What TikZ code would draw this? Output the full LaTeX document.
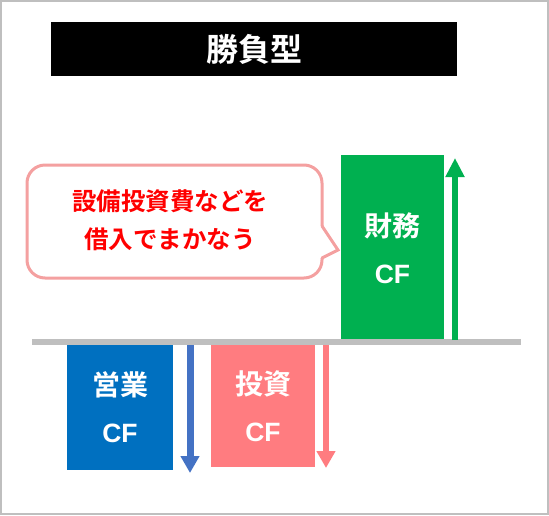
\documentclass[tikz,border=0pt]{standalone}
\usepackage{fontspec}
\setmainfont{Noto Sans CJK JP}[BoldFont={Noto Sans CJK JP Bold}]
\newfontfamily\latinf{Liberation Sans}
\usetikzlibrary{arrows.meta}
\definecolor{grayline}{HTML}{BFBFBF}
\definecolor{cfgreen}{HTML}{00B050}
\definecolor{cfblue}{HTML}{0070C0}
\definecolor{cfpink}{HTML}{FF7C80}
\definecolor{arrblue}{HTML}{4472C4}
\definecolor{bubblec}{HTML}{F4A0A0}
\definecolor{bubtext}{HTML}{FF0000}
\newcommand{\cftxt}{{\latinf\bfseries\fontsize{26.5}{47}\selectfont CF}}
\tikzset{
  cfbox/.style={minimum width=#1, inner sep=0pt, text=white, align=center,
    font=\bfseries\fontsize{28}{47}\selectfont},
  cfarrow/.style={line width=#1},
}
\begin{document}
\begin{tikzpicture}[x=1pt,y=-1pt]
\useasboundingbox (0,0) rectangle (549,515);
\draw[grayline, line width=2pt] (1,1) rectangle (548,514);
% title
\node[fill=black, minimum width=406pt, minimum height=54pt, inner sep=0pt, text=white,
  font=\bfseries\fontsize{32}{36}\selectfont] (title) at (254,49) {勝負型};
% bubble
\draw[bubblec, line width=3pt, fill=white, rounded corners=18pt] (27,165) rectangle (322,278);
\fill[white] (318,226) -- (322,226) -- (338,250) -- (322,258) -- (318,258) -- cycle;
\draw[bubblec, line width=3pt, line cap=round, line join=miter] (322,226) -- (338,250) -- (322,258);
\node[text=bubtext, align=center, font=\bfseries\fontsize{24.5}{38}\selectfont] (bubtxt) at (170,220)
  {設備投資費などを\\借入でまかなう};
% boxes
\node[cfbox=103pt, fill=cfgreen, minimum height=186pt] (fin) at (392.5,248) {財務\\\cftxt};
\node[cfbox=106pt, fill=cfblue, minimum height=125pt] (ope) at (120,407.5) {営業\\\cftxt};
\node[cfbox=104pt, fill=cfpink, minimum height=122pt] (inv) at (263,406) {投資\\\cftxt};
% base line
\coordinate (ls) at (32,342);
\coordinate (le) at (521,342);
\draw[grayline, line width=6pt] (ls) -- (le);
% arrows
\coordinate (ga0) at (455,340); \coordinate (ga1) at (455,158);
\coordinate (ba0) at (190,345); \coordinate (ba1) at (190,473);
\coordinate (pa0) at (326,345); \coordinate (pa1) at (326,468);
\draw[cfgreen, cfarrow=6pt, -{Triangle[width=18pt,length=19pt]}] (ga0) -- (ga1);
\draw[arrblue, cfarrow=7pt, -{Triangle[width=18pt,length=17pt]}] (ba0) -- (ba1);
\draw[cfpink, cfarrow=6pt, -{Triangle[width=18pt,length=17pt]}] (pa0) -- (pa1);
\end{tikzpicture}
\end{document}
